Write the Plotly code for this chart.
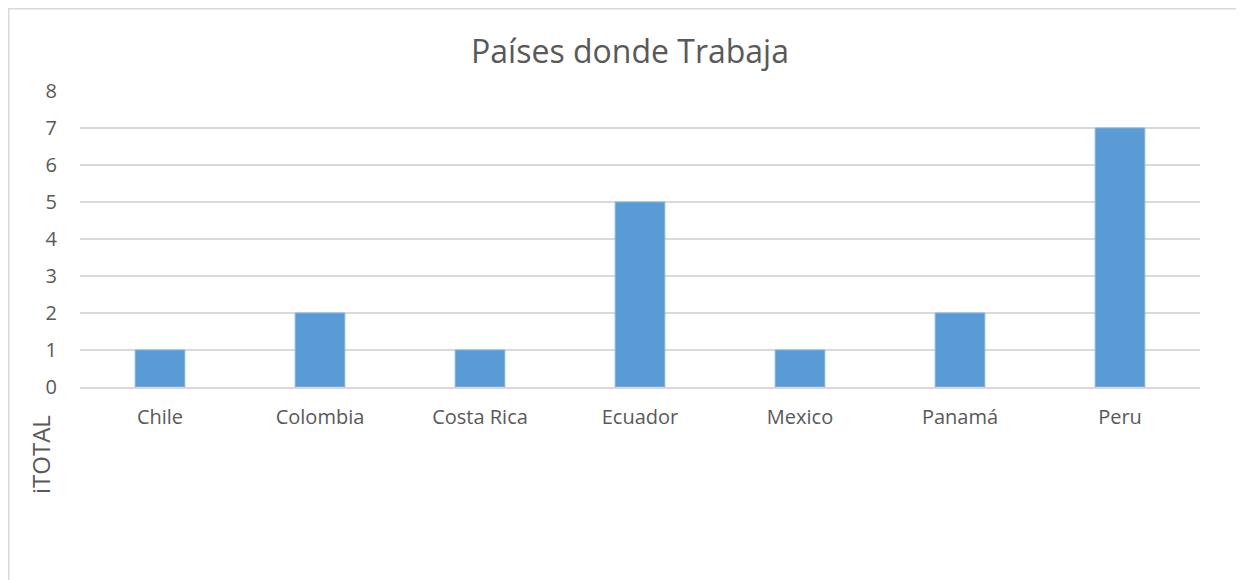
import plotly.graph_objects as go

countries = ["Chile", "Colombia", "Costa Rica", "Ecuador", "Mexico", "Panamá", "Peru"]
totals = [1, 2, 1, 5, 1, 2, 7]
y_ticks = [0, 1, 2, 3, 4, 5, 6, 7, 8]

W, H = 1244, 580
L, T = 72, 83
pw, ph = 1120, 296
R, B = W - L - pw, H - T - ph

grey = "#595959"
font_family = "Open Sans, Liberation Sans, sans-serif"

fig = go.Figure(go.Bar(
    x=countries, y=totals,
    marker=dict(color="#5B9BD5", line=dict(color="#7FB2E0", width=1)),
    width=0.31,
))

fig.update_layout(
    width=W, height=H,
    margin=dict(l=L, r=R, t=T, b=B),
    paper_bgcolor="white", plot_bgcolor="white",
    showlegend=False,
    title=dict(text="Países donde Trabaja", x=0.5, xref="container",
               xanchor="center", y=1 - 44 / H, yanchor="middle",
               font=dict(family=font_family, size=32, color=grey)),
    font=dict(family=font_family, color=grey),
    xaxis=dict(
        showgrid=False, showline=True, linecolor="#D9D9D9", linewidth=1.5,
        ticks="", tickfont=dict(size=20, color=grey), ticklabelstandoff=11,
        range=[-0.5, 6.5],
    ),
    yaxis=dict(
        range=[0, 8], tickvals=y_ticks, showgrid=True, gridcolor="#D9D9D9", gridwidth=1.5,
        zeroline=False, showline=False, ticks="",
        tickfont=dict(size=20, color=grey), ticklabelstandoff=22,
    ),
    annotations=[dict(
        text="iTOTAL", textangle=-90, xref="paper", yref="paper",
        x=(32 - L) / pw, y=1 - (447 - T) / ph, xanchor="center", yanchor="middle",
        showarrow=False, font=dict(family=font_family, size=24, color=grey),
    )],
    shapes=[dict(
        type="rect", xref="paper", yref="paper",
        x0=(0.75 - L) / pw, x1=(W + 20 - L) / pw,
        y0=1 - (H + 20 - T) / ph, y1=1 + (T - 0.75) / ph,
        line=dict(color="#D9D9D9", width=1.5), fillcolor="rgba(0,0,0,0)", layer="below",
    )],
)

fig.write_html("out.html")
